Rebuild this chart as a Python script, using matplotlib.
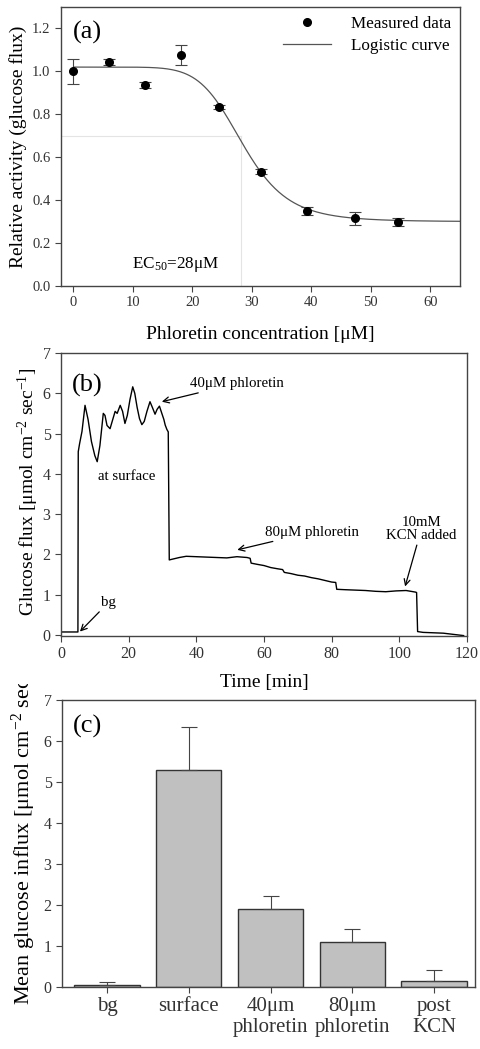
import matplotlib
matplotlib.use('Agg')
import matplotlib.pyplot as plt
from matplotlib.lines import Line2D
from matplotlib.transforms import Bbox
import numpy as np

plt.rcParams['font.family'] = ['Liberation Serif', 'DejaVu Serif']
plt.rcParams['mathtext.fontset'] = 'custom'
plt.rcParams['mathtext.rm'] = 'Liberation Serif'
plt.rcParams['mathtext.it'] = 'Liberation Serif:italic'

# (a) phloretin dose response
conc = [0, 6, 12, 18, 24.5, 31.6, 39.2, 47.4, 54.6]
activity = [1.0, 1.045, 0.937, 1.077, 0.833, 0.533, 0.350, 0.315, 0.298]
activity_err = [0.06, 0.015, 0.015, 0.045, 0.010, 0.010, 0.018, 0.030, 0.018]
# logistic fit parameters
fit_top, fit_bottom, fit_x0, fit_hill = 1.02, 0.30, 28.5, 7.5
ec50 = 28.2
ec50_level = 0.70

# (b) glucose flux trace
time_min = [0, 5.0, 5.1, 5.5, 6.2, 7.1, 8.0, 9.0, 10.0, 10.7, 11.5, 12.5, 13.0, 13.6, 14.5,
            15.3, 16.0, 16.6, 17.5, 18.2, 18.9, 19.6, 20.4, 21.2, 21.8, 22.5, 23.2, 23.9,
            24.6, 25.4, 26.3, 27.0, 27.8, 28.4, 29.1, 29.8, 30.4, 30.8, 31.3, 31.7, 32.0,
            33, 35, 37, 40, 43, 46, 49, 52, 55, 55.9, 56.2, 58, 60, 62, 64, 65.5, 66,
            68, 70, 72, 74, 76, 78, 80, 81.2, 81.5, 84, 87, 90, 93, 96, 99, 102, 104.8,
            105.1, 105.4, 107, 110, 113, 116, 119]
flux = [0.07, 0.07, 4.55, 4.75, 5.05, 5.70, 5.35, 4.80, 4.45, 4.30, 4.70, 5.50, 5.45, 5.20, 5.12,
        5.35, 5.55, 5.50, 5.70, 5.55, 5.25, 5.45, 5.85, 6.16, 6.00, 5.65, 5.37, 5.22,
        5.30, 5.55, 5.79, 5.65, 5.48, 5.60, 5.68, 5.50, 5.35, 5.21, 5.10, 5.04, 1.86,
        1.88, 1.92, 1.95, 1.94, 1.93, 1.92, 1.91, 1.94, 1.92, 1.90, 1.78, 1.75, 1.72, 1.67, 1.64, 1.62, 1.55,
        1.52, 1.48, 1.46, 1.42, 1.39, 1.35, 1.31, 1.30, 1.13, 1.12, 1.11, 1.10, 1.08, 1.07, 1.09, 1.10, 1.06,
        1.05, 0.08, 0.06, 0.05, 0.04, 0.01, -0.02]

# (c) mean influx
categories = ['bg', 'surface', '40\u03bcm\nphloretin', '80\u03bcm\nphloretin', 'post\nKCN']
mean_influx = [0.05, 5.30, 1.90, 1.10, 0.15]
influx_err = [0.07, 1.03, 0.32, 0.31, 0.27]

W, H = 481, 1049
fig = plt.figure(figsize=(W / 100, H / 100), dpi=100)
spine_col = '#444444'
tick_col = '#333333'
label_fs = 14
note_fs = 10.7


def style_axes(ax):
    for s in ax.spines.values():
        s.set_color(spine_col)
        s.set_linewidth(1.0)
    ax.tick_params(direction='out', length=4, width=0.8, color=spine_col,
                   labelcolor=tick_col, labelsize=10.5)
    ax.tick_params(axis='x', top=False)
    ax.tick_params(axis='y', right=False)


# ---- panel (a)
ax1 = fig.add_axes([61 / W, 1 - 286 / H, 399 / W, 279 / H])
style_axes(ax1)
xc = np.linspace(0.01, 65, 400)
yc = fit_bottom + (fit_top - fit_bottom) / (1 + (xc / fit_x0) ** fit_hill)
ax1.plot([-2.1, ec50], [ec50_level, ec50_level], color='#e4e4e4', lw=0.8)
ax1.plot([ec50, ec50], [0, ec50_level], color='#e4e4e4', lw=0.8)
ax1.errorbar(conc, activity, yerr=activity_err, fmt='o', color='black', ms=5.5,
             ecolor='#444444', elinewidth=0.8, capsize=4, capthick=0.8, zorder=3)
ax1.plot(xc, yc, color='#555555', lw=0.9)
ax1.set_xlim(-2.1, 65)
ax1.set_ylim(0, 1.3)
ax1.set_xticks(range(0, 61, 10))
ax1.set_yticks(np.arange(0, 1.21, 0.2))
ax1.set_yticklabels(['%.1f' % v for v in np.arange(0, 1.21, 0.2)])
ax1.set_xlabel('Phloretin concentration [\u03bcM]', fontsize=label_fs, labelpad=12)
ax1.set_ylabel('Relative activity (glucose flux)', fontsize=label_fs)
ax1.yaxis.set_label_coords(-0.085, 0.5)
ax1.text(2.4, 1.18, '(a)', fontsize=19, ha='center', va='center')
ax1.text(17.1, 0.10, 'EC$_{50}$=28\u03bcM', fontsize=12.3, ha='center', va='center')
handles = [Line2D([], [], ls='none', marker='o', color='black', ms=5.5),
           Line2D([], [], color='#555555', lw=0.9)]
ax1.legend(handles, ['Measured data', 'Logistic curve'], loc='upper right', frameon=False,
           fontsize=12.3, handlelength=2.8, borderaxespad=0.1, labelspacing=0.35,
           handletextpad=1.2)

# ---- panel (b)
ax2 = fig.add_axes([61 / W, 1 - 636 / H, 406 / W, 283 / H])
style_axes(ax2)
ax2.plot(time_min, flux, color='black', lw=1.0)
ax2.set_xlim(0, 120)
ax2.set_ylim(-0.03, 7)
ax2.set_xticks(range(0, 121, 20))
ax2.set_yticks(range(0, 8))
ax2.tick_params(labelsize=11.5)
ax2.set_xlabel('Time [min]', fontsize=label_fs, labelpad=8)
ax2.set_ylabel('Glucose flux [\u03bcmol cm$^{-2}$ sec$^{-1}$]', fontsize=label_fs)
ax2.yaxis.set_label_coords(-0.05, 0.51)
ax2.text(7.7, 6.2, '(b)', fontsize=19, ha='center', va='center')
ax2.text(19.4, 3.93, 'at surface', fontsize=note_fs, ha='center', va='center')
arrow = dict(arrowstyle='->', color='black', lw=0.9, shrinkA=0, shrinkB=0)
ax2.annotate('40\u03bcM phloretin', xy=(29.8, 5.79), xytext=(38.0, 6.24),
             fontsize=note_fs, va='center', arrowprops=arrow)
ax2.annotate('80\u03bcM phloretin', xy=(52.1, 2.11), xytext=(60.3, 2.55),
             fontsize=note_fs, va='center', arrowprops=arrow)
ax2.annotate('10mM\nKCN added', xy=(101.7, 1.2), xytext=(106.5, 2.62),
             fontsize=note_fs, ha='center', va='center', linespacing=1.0, arrowprops=arrow)
ax2.annotate('bg', xy=(5.6, 0.08), xytext=(14.0, 0.80),
             fontsize=note_fs, ha='center', va='center', arrowprops=arrow)

# ---- panel (c)
ax3 = fig.add_axes([62 / W, 1 - 987 / H, 413 / W, 287 / H])
style_axes(ax3)
pos = np.arange(len(categories))
ax3.bar(pos, mean_influx, width=0.8, color='#c0c0c0', edgecolor='#333333', linewidth=1.0)
ax3.errorbar(pos, mean_influx, yerr=[np.zeros(len(pos)), influx_err], fmt='none',
             ecolor='#444444', elinewidth=0.8, capsize=6, capthick=0.8)
ax3.set_xlim(-0.55, 4.5)
ax3.set_ylim(0, 7)
ax3.set_xticks(pos)
ax3.set_xticklabels(categories, fontsize=15, linespacing=1.1)
ax3.set_yticks(range(0, 8))
ax3.tick_params(axis='y', labelsize=11.5)
ylab = ax3.set_ylabel('Mean glucose influx [\u03bcmol cm$^{-2}$ sec$^{-1}$]', fontsize=16)
ax3.yaxis.set_label_coords(-0.058, 0.55)
# the original label runs off the top of the panel and is cut there
ylab.set_clip_box(Bbox([[0, 0], [W, H - 684]]))
ylab.set_clip_on(True)
ax3.text(-0.24, 6.35, '(c)', fontsize=19, ha='center', va='center')

fig.savefig('out.png', dpi=100)
